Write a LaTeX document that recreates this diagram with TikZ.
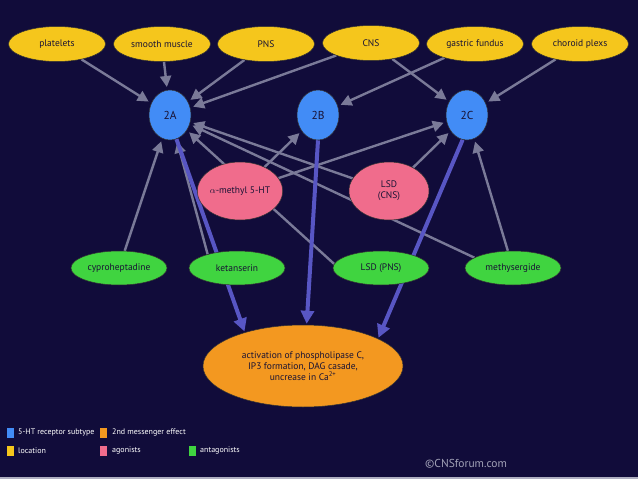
\documentclass[tikz,border=0pt]{standalone}
\usepackage{fontspec}
\setmainfont{PT Sans}
\usepackage{xcolor}
\usepackage{tikz}
\usetikzlibrary{shapes.geometric,arrows.meta,positioning,calc}

\definecolor{navy}{RGB}{17,12,58}
\definecolor{locyellow}{RGB}{245,198,28}
\definecolor{subblue}{RGB}{66,140,246}
\definecolor{agopink}{RGB}{240,108,140}
\definecolor{antgreen}{RGB}{64,212,64}
\definecolor{msgorange}{RGB}{243,152,32}
\definecolor{linkgray}{RGB}{122,122,152}
\definecolor{thickblue}{RGB}{88,86,196}
\definecolor{inktext}{RGB}{24,18,52}

\pgfdeclarelayer{back}
\pgfdeclarelayer{links}
\pgfsetlayers{back,links,main}

\begin{document}
\begin{tikzpicture}[
  x=1pt, y=-1pt,
  blob/.style={draw=black!80, line width=0.5pt, ellipse, inner sep=0pt, text=inktext, font=\fontsize{9.5}{11}\selectfont},
  location/.style={blob, fill=locyellow, minimum width=97pt, minimum height=35pt},
  subtype/.style={blob, fill=subblue, minimum width=42pt, minimum height=50pt, font=\fontsize{11.5}{13}\selectfont},
  agonist/.style={blob, fill=agopink, minimum width=80pt, minimum height=58pt, align=center},
  antagonist/.style={blob, fill=antgreen, minimum width=96pt, minimum height=34pt},
  effect/.style={blob, fill=msgorange, minimum width=200pt, minimum height=82pt, align=center},
  ptr/.style={-{Triangle[length=11pt,width=11pt]}, line width=2.4pt, linkgray, shorten >=3pt},
  fat/.style={-{Triangle[length=13pt,width=13pt]}, line width=4pt, thickblue, shorten >=1pt},
  key/.style={rectangle, minimum width=7pt, minimum height=10pt, inner sep=0pt},
  keytext/.style={anchor=west, text=white, inner sep=0pt, font=\fontsize{8}{10}\selectfont}
]
\useasboundingbox (0,0) rectangle (638,479);
\begin{pgfonlayer}{back}
  \fill[navy] (0,0) rectangle (638,479);
  \fill[linkgray!60!white] (0,476.5) rectangle (638,479);
\end{pgfonlayer}

% locations
\node[location] (platelets) at (57,44) {platelets};
\node[location] (smooth) at (162,44) {smooth muscle};
\node[location] (pns) at (266,44) {PNS};
\node[location] (cns) at (371,43) {CNS};
\node[location] (gastric) at (475,44) {gastric fundus};
\node[location] (choroid) at (580,44) {choroid plexs};

% receptor subtypes
\node[subtype] (r2a) at (170,115) {2A};
\node[subtype] (r2b) at (318,115) {2B};
\node[subtype] (r2c) at (467,115) {2C};

% agonists
\node[agonist] (amethyl) at (240,191) {$\alpha$-methyl 5-HT};
\node[agonist] (lsdcns) at (389,191) {LSD\\(CNS)};

% antagonists
\node[antagonist] (cypro) at (119,268) {cyproheptadine};
\node[antagonist] (ketan) at (237,268) {ketanserin};
\node[antagonist] (lsdpns) at (381,268) {LSD (PNS)};
\node[antagonist] (methy) at (513,268) {methysergide};

% second messenger
\node[effect] (plc) at (303,366) {activation of phospholipase C,\\IP3 formation, DAG casade,\\uncrease in Ca\textsuperscript{2+}};

\begin{pgfonlayer}{links}
\draw[ptr] (platelets) -- (r2a);
\draw[ptr] (smooth) -- (r2a);
\draw[ptr] (pns) -- (r2a);
\draw[ptr] (cns) -- (r2a);
\draw[ptr] (cns) -- (r2c);
\draw[ptr] (gastric) -- (r2b);
\draw[ptr] (choroid) -- (r2c);
\draw[ptr] (amethyl) -- (r2b);
\draw[ptr] (amethyl) -- (r2c);
\draw[ptr] (lsdcns) -- (r2a);
\draw[ptr] (lsdcns) -- (r2c);
\draw[ptr] (cypro) -- (r2a);
\draw[ptr] (ketan.155) -- (r2a);
\draw[ptr] (lsdpns.175) -- (r2a);
\draw[ptr] (methy.165) -- (r2a);
\draw[ptr] (methy) -- (r2c);
\draw[fat] (r2a.-75) -- (plc.150);
\draw[fat] (r2b.south) -- (plc.85);
\draw[fat] (r2c.-100) -- (plc.20);
\end{pgfonlayer}

% legend
\node[key, fill=subblue] (ksub) at (10,432.5) {};
\node[keytext] (tsub) at (18,432.5) {5-HT receptor subtype};
\node[key, fill=msgorange] (kmsg) at (103.5,432.5) {};
\node[keytext] (tmsg) at (112,432.5) {2nd messenger effect};
\node[key, fill=locyellow] (kloc) at (10,451) {};
\node[keytext] (tloc) at (18,451) {location};
\node[key, fill=agopink] (kago) at (103.5,451) {};
\node[keytext] (tago) at (112,451) {agonists};
\node[key, fill=antgreen] (kant) at (192,451) {};
\node[keytext] (tant) at (200,451) {antagonists};
\node[anchor=west, inner sep=0pt, text=linkgray!70!white, font=\fontsize{11.5}{13}\selectfont] (credit) at (425,464) {\textcopyright CNSforum.com};
\end{tikzpicture}
\end{document}
